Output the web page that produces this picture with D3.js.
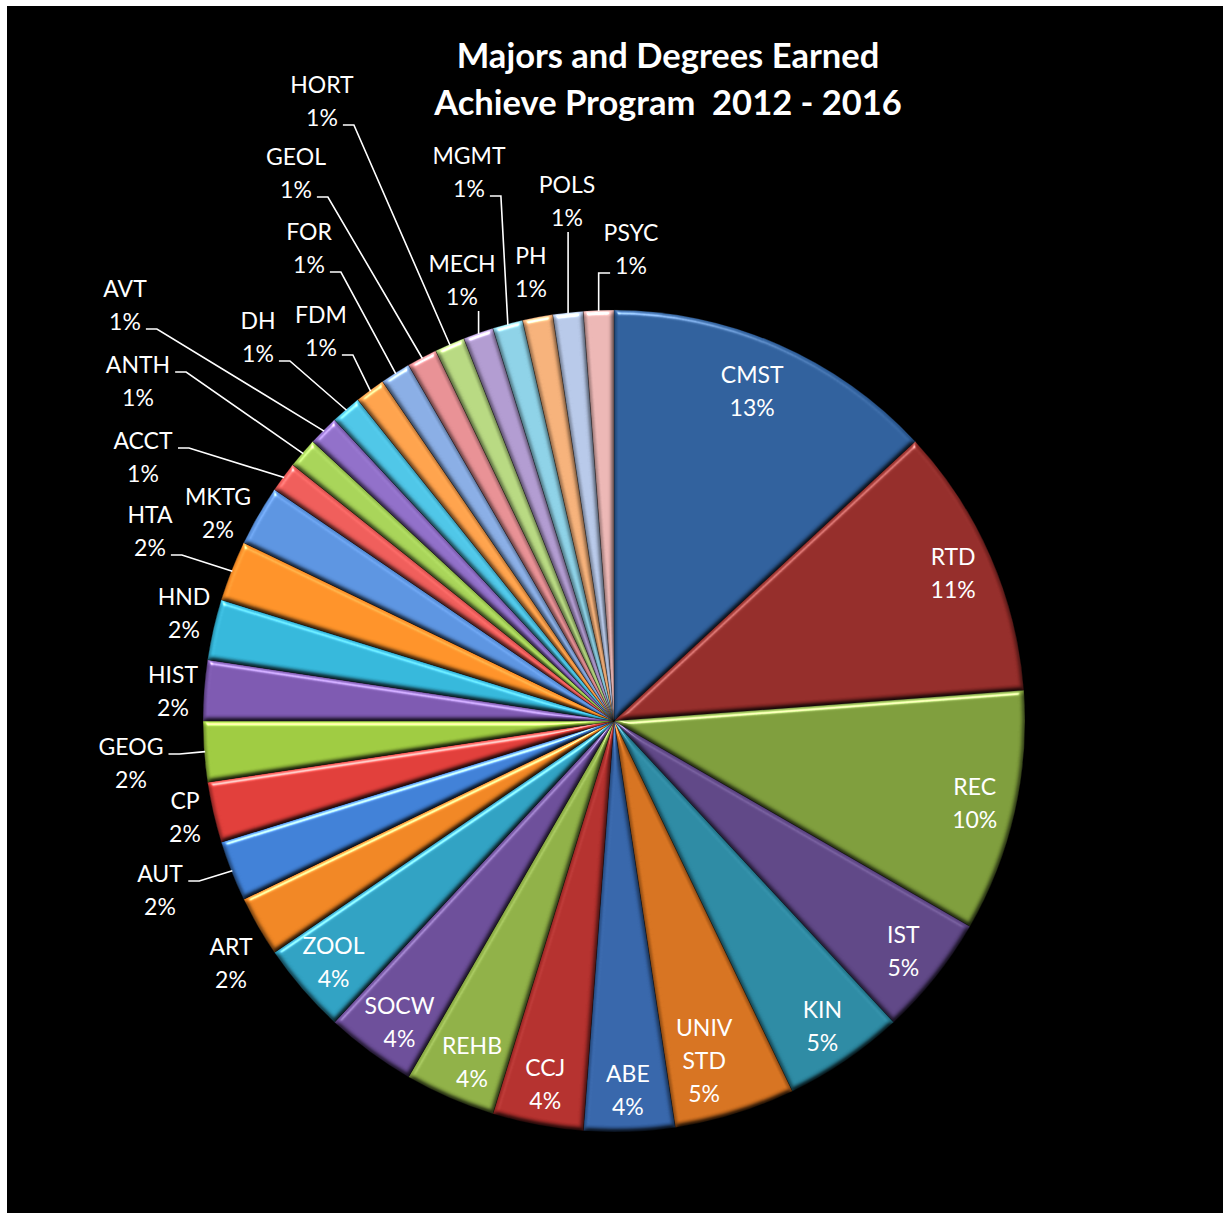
<!DOCTYPE html>
<html>
<head>
<meta charset="utf-8">
<script src="https://cdn.jsdelivr.net/npm/d3@7"></script>
<style>
  html, body { margin: 0; padding: 0; background: #ffffff; }
  svg { display: block; }
</style>
</head>
<body>
<svg id="chart" width="1223" height="1213"></svg>
<script>
// Degrees earned per major, in drawing order (clockwise from 12 o'clock)
const majors = ["CMST", "RTD", "REC", "IST", "KIN", "UNIV STD", "ABE", "CCJ", "REHB", "SOCW", "ZOOL",
  "ART", "AUT", "CP", "GEOG", "HIST", "HND", "HTA", "MKTG",
  "ACCT", "ANTH", "AVT", "DH", "FDM", "FOR", "GEOL", "HORT", "MECH", "MGMT", "PH", "POLS", "PSYC"];
const degrees = [11, 9, 8, 4, 4, 4, 3, 3, 3, 3, 3,
  2, 2, 2, 2, 2, 2, 2, 2,
  1, 1, 1, 1, 1, 1, 1, 1, 1, 1, 1, 1, 1];
const titleLines = ["Majors and Degrees Earned", "Achieve Program  2012 - 2016"];

// Slice fills
const sliceColors = [
  "#2e5e9a", "#922b28", "#7c9b3a", "#5d4584", "#2b88a1", "#d4711f",
  "#3564a8", "#b22f2c", "#8dae45", "#6a4c97", "#2e9fc0", "#ee8422",
  "#3e7ed4", "#de3c38", "#9cc83f", "#7b57ae", "#33b5d8", "#fb9027",
  "#5a92de", "#ec5b58", "#a5d156", "#8e6dc6", "#4cc3e4", "#fda04a",
  "#87abe2", "#e58e92", "#b5d67f", "#af99ce", "#8bcfe4", "#f3af78",
  "#b5c6e6", "#e9b4b2"
];

// Label placement
const insideCount = 11;
const insideRadius = 370;
const insideTweak = {
  "CMST": { r: 357, da: -0.8 },
  "UNIV STD": { r: 352, da: 2.3 },
  "SOCW": { da: -1 },
  "REHB": { da: -1 }
};
const outerLabelLayout = {
  "ART":  { x: 231, y: 955, leader: null },
  "AUT":  { x: 160, y: 882, leader: "name" },
  "CP":   { x: 185, y: 809, leader: null },
  "GEOG": { x: 131, y: 755, leader: "name" },
  "HIST": { x: 173, y: 683, leader: null },
  "HND":  { x: 184, y: 605, leader: null },
  "HTA":  { x: 150, y: 523, leader: "value" },
  "MKTG": { x: 218, y: 505, leader: null },
  "ACCT": { x: 143, y: 449, leader: "name" },
  "ANTH": { x: 138, y: 373, leader: "name" },
  "AVT":  { x: 125, y: 297, leader: "value" },
  "DH":   { x: 258, y: 329, leader: "value" },
  "FDM":  { x: 321, y: 323, leader: "value" },
  "FOR":  { x: 309, y: 240, leader: "value" },
  "GEOL": { x: 296, y: 165, leader: "value" },
  "HORT": { x: 322, y: 93,  leader: "value" },
  "MECH": { x: 462, y: 272, leader: "down" },
  "MGMT": { x: 469, y: 164, leader: "value" },
  "PH":   { x: 531, y: 264, leader: null },
  "POLS": { x: 567, y: 193, leader: "down" },
  "PSYC": { x: 631, y: 241, leader: "left" }
};

const W = 1223, H = 1213;
const cx = 614, cy = 721, R = 411;
const lineGap = 33;
const labelFont = "Lato, 'Open Sans', sans-serif";

const svg = d3.select("#chart");

// background frame
svg.append("rect").attr("x", 0).attr("y", 0).attr("width", W).attr("height", H).attr("fill", "#ffffff");
svg.append("rect").attr("x", 7).attr("y", 6).attr("width", W - 7).attr("height", H - 6).attr("fill", "#000000");

// soft bevel for each wedge
const defs = svg.append("defs");
const f = defs.append("filter").attr("id", "bevel")
  .attr("x", "-5%").attr("y", "-5%").attr("width", "110%").attr("height", "110%")
  .attr("color-interpolation-filters", "sRGB");
f.append("feGaussianBlur").attr("in", "SourceAlpha").attr("stdDeviation", 2.8).attr("result", "blur");
f.append("feDiffuseLighting").attr("in", "blur").attr("surfaceScale", 4).attr("diffuseConstant", 1.155)
  .attr("lighting-color", "#ffffff").attr("result", "diff")
  .append("feDistantLight").attr("azimuth", 255).attr("elevation", 60);
f.append("feSpecularLighting").attr("in", "blur").attr("surfaceScale", 4).attr("specularConstant", 0.6)
  .attr("specularExponent", 26).attr("lighting-color", "#ffffff").attr("result", "spec")
  .append("feDistantLight").attr("azimuth", 255).attr("elevation", 30);
f.append("feComposite").attr("in", "spec").attr("in2", "SourceAlpha").attr("operator", "in").attr("result", "specIn");
f.append("feComposite").attr("in", "SourceGraphic").attr("in2", "diff").attr("operator", "arithmetic")
  .attr("k1", 1).attr("k2", 0).attr("k3", 0).attr("k4", 0).attr("result", "shaded");
f.append("feComposite").attr("in", "shaded").attr("in2", "specIn").attr("operator", "arithmetic")
  .attr("k1", 0).attr("k2", 1).attr("k3", 1).attr("k4", 0);

const total = d3.sum(degrees);
const pct = v => Math.round(v / total * 100) + "%";

const pie = d3.pie().sort(null).value(d => d.value);
const arcs = pie(majors.map((m, i) => ({ name: m, value: degrees[i], color: sliceColors[i] })));
const arc = d3.arc().innerRadius(0).outerRadius(R);

const g = svg.append("g").attr("transform", `translate(${cx},${cy})`);
g.selectAll("path.slice").data(arcs).join("path")
  .attr("class", "slice")
  .attr("d", arc)
  .attr("fill", d => d.data.color)
  .attr("stroke", "rgba(0,0,0,0.35)")
  .attr("stroke-width", 0.8)
  .attr("filter", "url(#bevel)");

const mid = d => (d.startAngle + d.endAngle) / 2;
const polar = (a, r) => [cx + r * Math.sin(a), cy - r * Math.cos(a)];

const labels = svg.append("g")
  .attr("font-family", labelFont)
  .attr("font-size", 23)
  .attr("fill", "#ffffff")
  .attr("text-anchor", "middle");

// labels inside the larger wedges
arcs.slice(0, insideCount).forEach(d => {
  const t = insideTweak[d.data.name] || {};
  const a = mid(d) + (t.da || 0) * Math.PI / 180;
  const [x, y] = polar(a, t.r || insideRadius);
  const lines = d.data.name.split(" ").concat([pct(d.data.value)]);
  const first = y - (lines.length - 1) * lineGap / 2 + 8;
  lines.forEach((s, k) => {
    labels.append("text").attr("x", x).attr("y", first + k * lineGap).text(s);
  });
});

// labels outside the small wedges, with leader lines
const leaders = svg.append("g").attr("stroke", "#ffffff").attr("stroke-width", 1.6).attr("fill", "none");
arcs.slice(insideCount).forEach(d => {
  const L = outerLabelLayout[d.data.name];
  const nameT = labels.append("text").attr("x", L.x).attr("y", L.y).text(d.data.name);
  const valT = labels.append("text").attr("x", L.x).attr("y", L.y + lineGap).text(pct(d.data.value));
  if (!L.leader) return;
  const [ex, ey] = polar(mid(d), R - 1);
  let pts;
  if (L.leader === "name" || L.leader === "value") {
    const node = (L.leader === "name" ? nameT : valT).node();
    const bb = node.getBBox();
    const sy = (L.leader === "name" ? L.y : L.y + lineGap) - 1;
    const sx = bb.x + bb.width + 5;
    pts = [[sx, sy], [sx + 11, sy], [ex, ey]];
  } else if (L.leader === "left") {
    const bb = valT.node().getBBox();
    const sy = L.y + lineGap - 1;
    pts = [[bb.x - 5, sy], [ex, sy], [ex, ey]];
  } else {
    const sy = L.y + lineGap + 6;
    pts = [[ex, sy], [ex, ey]];
  }
  leaders.append("path").attr("d", d3.line()(pts));
});

// title
const title = svg.append("g")
  .attr("font-family", labelFont)
  .attr("font-weight", "bold")
  .attr("font-size", 34.5)
  .attr("fill", "#ffffff")
  .attr("text-anchor", "middle");
titleLines.forEach((s, k) => {
  title.append("text").attr("x", 668).attr("y", 68 + k * 47)
    .style("white-space", "pre").text(s);
});
</script>
</body>
</html>
